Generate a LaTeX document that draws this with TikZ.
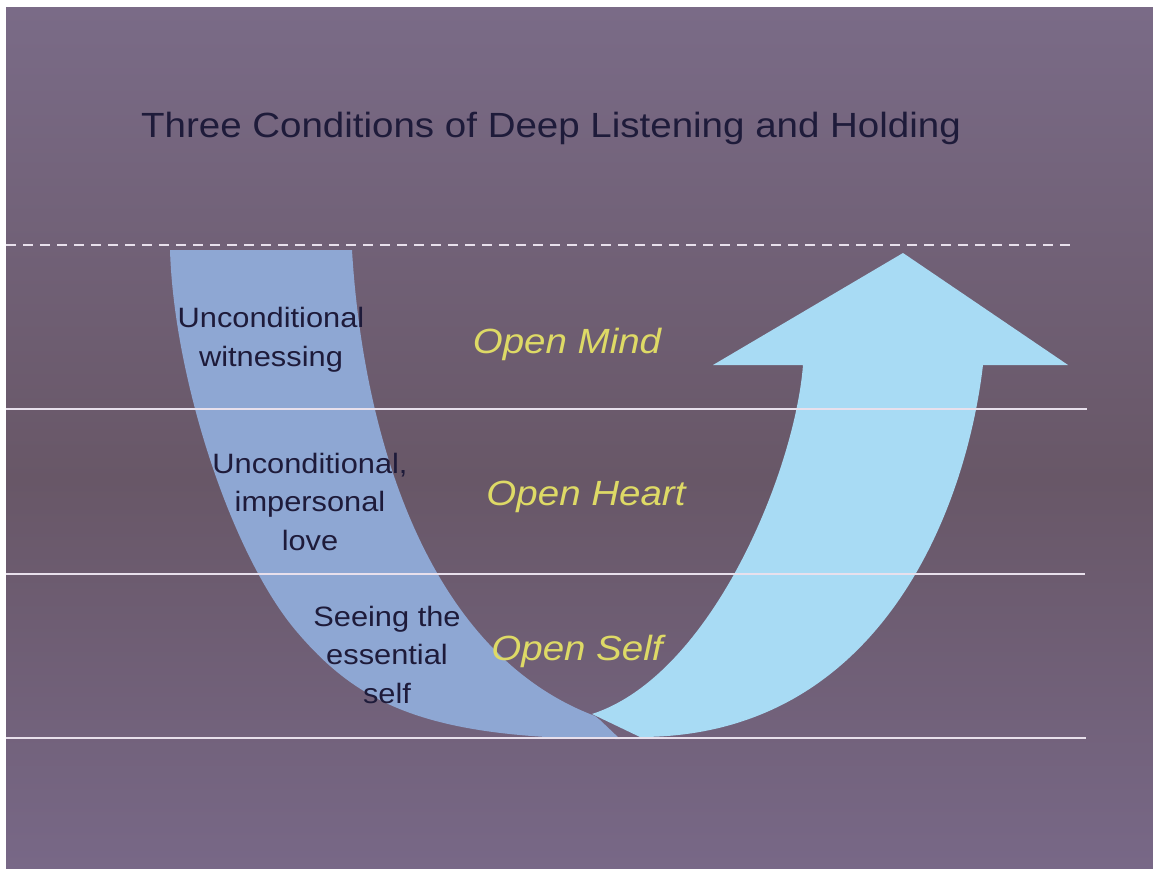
\documentclass[tikz,border=0pt]{standalone}
\usepackage{fontspec}
\setmainfont{Liberation Sans}[FakeStretch=1.1]
\usepackage{tikz}

\definecolor{slidetop}{HTML}{7A6B87}
\definecolor{slidemid}{HTML}{685767}
\definecolor{slidebot}{HTML}{786887}
\definecolor{bandblue}{HTML}{8EA7D3}
\definecolor{arrowblue}{HTML}{A8DBF4}
\definecolor{inkblue}{HTML}{1E1B3A}
\definecolor{openyellow}{HTML}{DEDA66}
\definecolor{chalk}{HTML}{E8E0EC}

\begin{document}
\begin{tikzpicture}[x=1pt, y=-1pt,
  divider/.style={chalk, line width=2pt},
  condtext/.style={inkblue, align=center, font=\fontsize{28}{38.5}\selectfont, anchor=base},
  opentext/.style={openyellow, font=\fontsize{35}{42}\selectfont\itshape, anchor=base}]
\useasboundingbox (0,0) rectangle (1153,869);
% Drawing slide background
\fill[white] (0,0) rectangle (1153,869);
\shade[top color=slidetop, bottom color=slidemid] (6,8) rectangle (1153,480);
\shade[top color=slidemid, bottom color=slidebot] (6,479) rectangle (1153,869);

% Drawing the descending band
\fill[bandblue] (170,250) .. controls (174,380) and (232,556) .. (297,632)
  .. controls (360,706) and (430,739) .. (620,739) -- (600,720) -- (595,716)
  .. controls (420,650) and (362,420) .. (352,250) -- cycle;

% Drawing the rising arrow
\fill[arrowblue] (592,714) .. controls (712,675) and (795,470) .. (803,365)
  -- (713,365) -- (903,253) -- (1068,365) -- (983,365)
  .. controls (966,510) and (880,737) .. (640,737) -- cycle;

% Drawing level lines
\draw[divider, line width=2.5pt, dash pattern=on 10pt off 7pt] (6,245) -- (1075,245);
\draw[divider] (6,409) -- (1087,409);
\draw[divider] (6,574) -- (1085,574);
\draw[divider] (6,738) -- (1086,738);

% Title
\node[inkblue, font=\fontsize{35}{42}\selectfont, anchor=base] (title) at (551,138) {Three Conditions of Deep Listening and Holding};

% Conditions (base is the last line)
\node[condtext] (witness) at (271,366) {Unconditional\\witnessing};
\node[condtext] (love) at (310,550) {Unconditional,\\impersonal\\love};
\node[condtext] (seeing) at (387,703) {Seeing the\\essential\\self};

% Openings
\node[opentext] (mind) at (567,353) {Open Mind};
\node[opentext] (heart) at (586,505) {Open Heart};
\node[opentext] (self) at (577,660) {Open Self};
\end{tikzpicture}
\end{document}
